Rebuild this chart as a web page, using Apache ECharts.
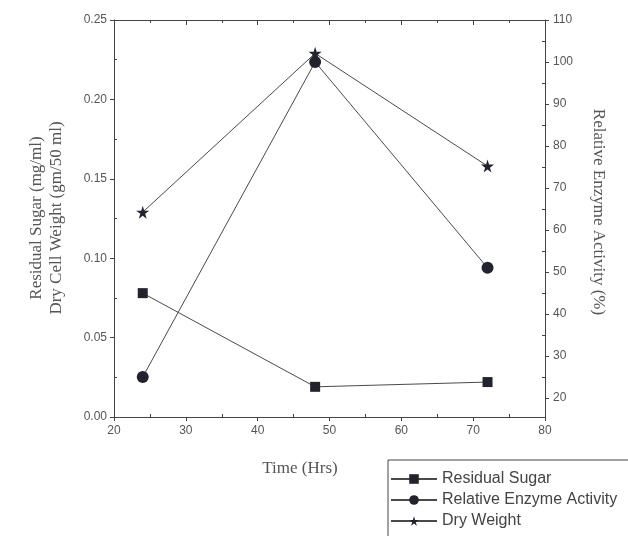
<!DOCTYPE html>
<html>
<head>
<meta charset="utf-8">
<script src="https://cdn.jsdelivr.net/npm/echarts@6/dist/echarts.min.js"></script>
<style>html,body{margin:0;padding:0;background:#fff;}#c{width:628px;height:536px;}</style>
</head>
<body>
<div id="c"></div>
<script>
// ---- data ----
const timeHrs = [24, 48, 72];
const residualSugar = [0.078, 0.019, 0.022];      // mg/ml (left axis)
const enzymeActivity = [25, 100, 51];            // % (right axis)
const dryWeight = [0.129, 0.229, 0.158];          // gm/50 ml (left axis)
const seriesNames = ['Residual Sugar', 'Relative Enzyme Activity', 'Dry Weight'];
const xTicks = [20, 30, 40, 50, 60, 70, 80];
const leftTicks = [0, 0.05, 0.10, 0.15, 0.20, 0.25];
const rightTicks = [20, 30, 40, 50, 60, 70, 80, 90, 100, 110];
const xMinorTicks = [25, 35, 45, 55, 65, 75];
const leftMinorTicks = [0.025, 0.075, 0.125, 0.175, 0.225];
const rightMinorTicks = [25, 35, 45, 55, 65, 75, 85, 95, 105];
const xTitle = 'Time (Hrs)';
const leftTitle1 = 'Residual Sugar (mg/ml)';
const leftTitle2 = 'Dry Cell Weight (gm/50 ml)';
const rightTitle = 'Relative Enzyme Activity (%)';

const axisColor = '#444';
const textColor = '#555';
const markColor = '#23232e';
const lineColor = '#4a4a4a';
const star = 'path://M50,0 L61,35 L98,35 L68,57 L79,91 L50,70 L21,91 L32,57 L2,35 L39,35 Z';

const gridRect = {left: 114, right: 83, top: 20, bottom: 119};
const tickFont = {fontFamily: 'Liberation Sans, Arial, sans-serif', fontSize: 12, color: textColor};
const serifFont = '17px "Liberation Serif", "Times New Roman", serif';

function pair(xs, ys) { return xs.map((x, i) => [x, ys[i]]); }

const chart = echarts.init(document.getElementById('c'), null, {renderer: 'canvas'});
chart.setOption({
  animation: false,
  backgroundColor: '#fff',
  grid: [
    Object.assign({}, gridRect),
    Object.assign({}, gridRect)
  ],
  xAxis: [
    {
      type: 'value', gridIndex: 0, position: 'bottom', min: xTicks[0], max: xTicks[xTicks.length - 1], interval: 10,
      axisLine: {show: true, lineStyle: {color: axisColor, width: 1}},
      axisTick: {show: true, inside: false, length: 4, lineStyle: {color: axisColor}},
      axisLabel: Object.assign({show: true, margin: 8}, tickFont),
      splitLine: {show: false}
    },
    {
      type: 'value', gridIndex: 0, position: 'top', min: xTicks[0], max: xTicks[xTicks.length - 1], interval: 10,
      axisLine: {show: true, lineStyle: {color: axisColor, width: 1}},
      axisTick: {show: true, inside: true, length: 5, lineStyle: {color: axisColor}},
      minorTick: {show: true, splitNumber: 2, length: 3, lineStyle: {color: axisColor}},
      axisLabel: {show: false},
      splitLine: {show: false}
    },
    {
      type: 'value', gridIndex: 1, position: 'bottom', min: xTicks[0], max: xTicks[xTicks.length - 1],
      axisLine: {show: false},
      axisTick: {show: true, inside: true, length: 3, customValues: xMinorTicks, lineStyle: {color: axisColor}},
      axisLabel: {show: false},
      splitLine: {show: false}
    }
  ],
  yAxis: [
    {
      type: 'value', gridIndex: 0, position: 'left', min: leftTicks[0], max: leftTicks[leftTicks.length - 1], interval: 0.05,
      axisLine: {show: true, lineStyle: {color: axisColor, width: 1}},
      axisTick: {show: true, inside: false, length: 4, lineStyle: {color: axisColor}},
      axisLabel: Object.assign({show: true, margin: 7, formatter: v => v.toFixed(2)}, tickFont),
      splitLine: {show: false}
    },
    {
      type: 'value', gridIndex: 0, position: 'right', min: 15.5, max: 110,
      axisLine: {show: true, lineStyle: {color: axisColor, width: 1}},
      axisTick: {show: true, inside: false, length: 4, customValues: rightTicks, lineStyle: {color: axisColor}},
      axisLabel: Object.assign({show: true, margin: 8, customValues: rightTicks}, tickFont),
      splitLine: {show: false}
    },
    {
      type: 'value', gridIndex: 1, position: 'left', min: leftTicks[0], max: leftTicks[leftTicks.length - 1],
      axisLine: {show: false},
      axisTick: {show: true, inside: true, length: 3, customValues: leftMinorTicks, lineStyle: {color: axisColor}},
      axisLabel: {show: false},
      splitLine: {show: false}
    },
    {
      type: 'value', gridIndex: 1, position: 'right', min: 15.5, max: 110,
      axisLine: {show: false},
      axisTick: {show: true, inside: true, length: 3, customValues: rightMinorTicks, lineStyle: {color: axisColor}},
      axisLabel: {show: false},
      splitLine: {show: false}
    }
  ],
  legend: {
    orient: 'vertical', left: 388, top: 460, height: 120,
    padding: [11, 30, 30, 2],
    borderColor: '#444', borderWidth: 1,
    itemWidth: 46, itemHeight: 12, itemGap: 5,
    textStyle: {fontFamily: 'Liberation Sans, Arial, sans-serif', fontSize: 16, color: '#444'},
    data: seriesNames
  },
  graphic: [
    {type: 'text', x: 300, y: 469, style: {text: xTitle, font: serifFont, fill: textColor, textAlign: 'center', textVerticalAlign: 'middle'}},
    {type: 'text', x: 37, y: 218, rotation: Math.PI / 2, style: {text: leftTitle1, font: serifFont, fill: textColor, textAlign: 'center', textVerticalAlign: 'middle'}},
    {type: 'text', x: 57, y: 218, rotation: Math.PI / 2, style: {text: leftTitle2, font: serifFont, fill: textColor, textAlign: 'center', textVerticalAlign: 'middle'}},
    {type: 'text', x: 598, y: 212, rotation: -Math.PI / 2, style: {text: rightTitle, font: serifFont, fill: textColor, textAlign: 'center', textVerticalAlign: 'middle'}}
  ],
  series: [
    {
      name: seriesNames[0], type: 'line', xAxisIndex: 0, yAxisIndex: 0,
      data: pair(timeHrs, residualSugar),
      symbol: 'rect', symbolSize: 10,
      lineStyle: {color: lineColor, width: 1},
      itemStyle: {color: markColor}
    },
    {
      name: seriesNames[1], type: 'line', xAxisIndex: 0, yAxisIndex: 1,
      data: pair(timeHrs, enzymeActivity),
      symbol: 'circle', symbolSize: 12,
      lineStyle: {color: lineColor, width: 1},
      itemStyle: {color: markColor}
    },
    {
      name: seriesNames[2], type: 'line', xAxisIndex: 0, yAxisIndex: 0,
      data: pair(timeHrs, dryWeight),
      symbol: star, symbolSize: 13,
      lineStyle: {color: lineColor, width: 1},
      itemStyle: {color: markColor}
    }
  ]
});
</script>
</body>
</html>
